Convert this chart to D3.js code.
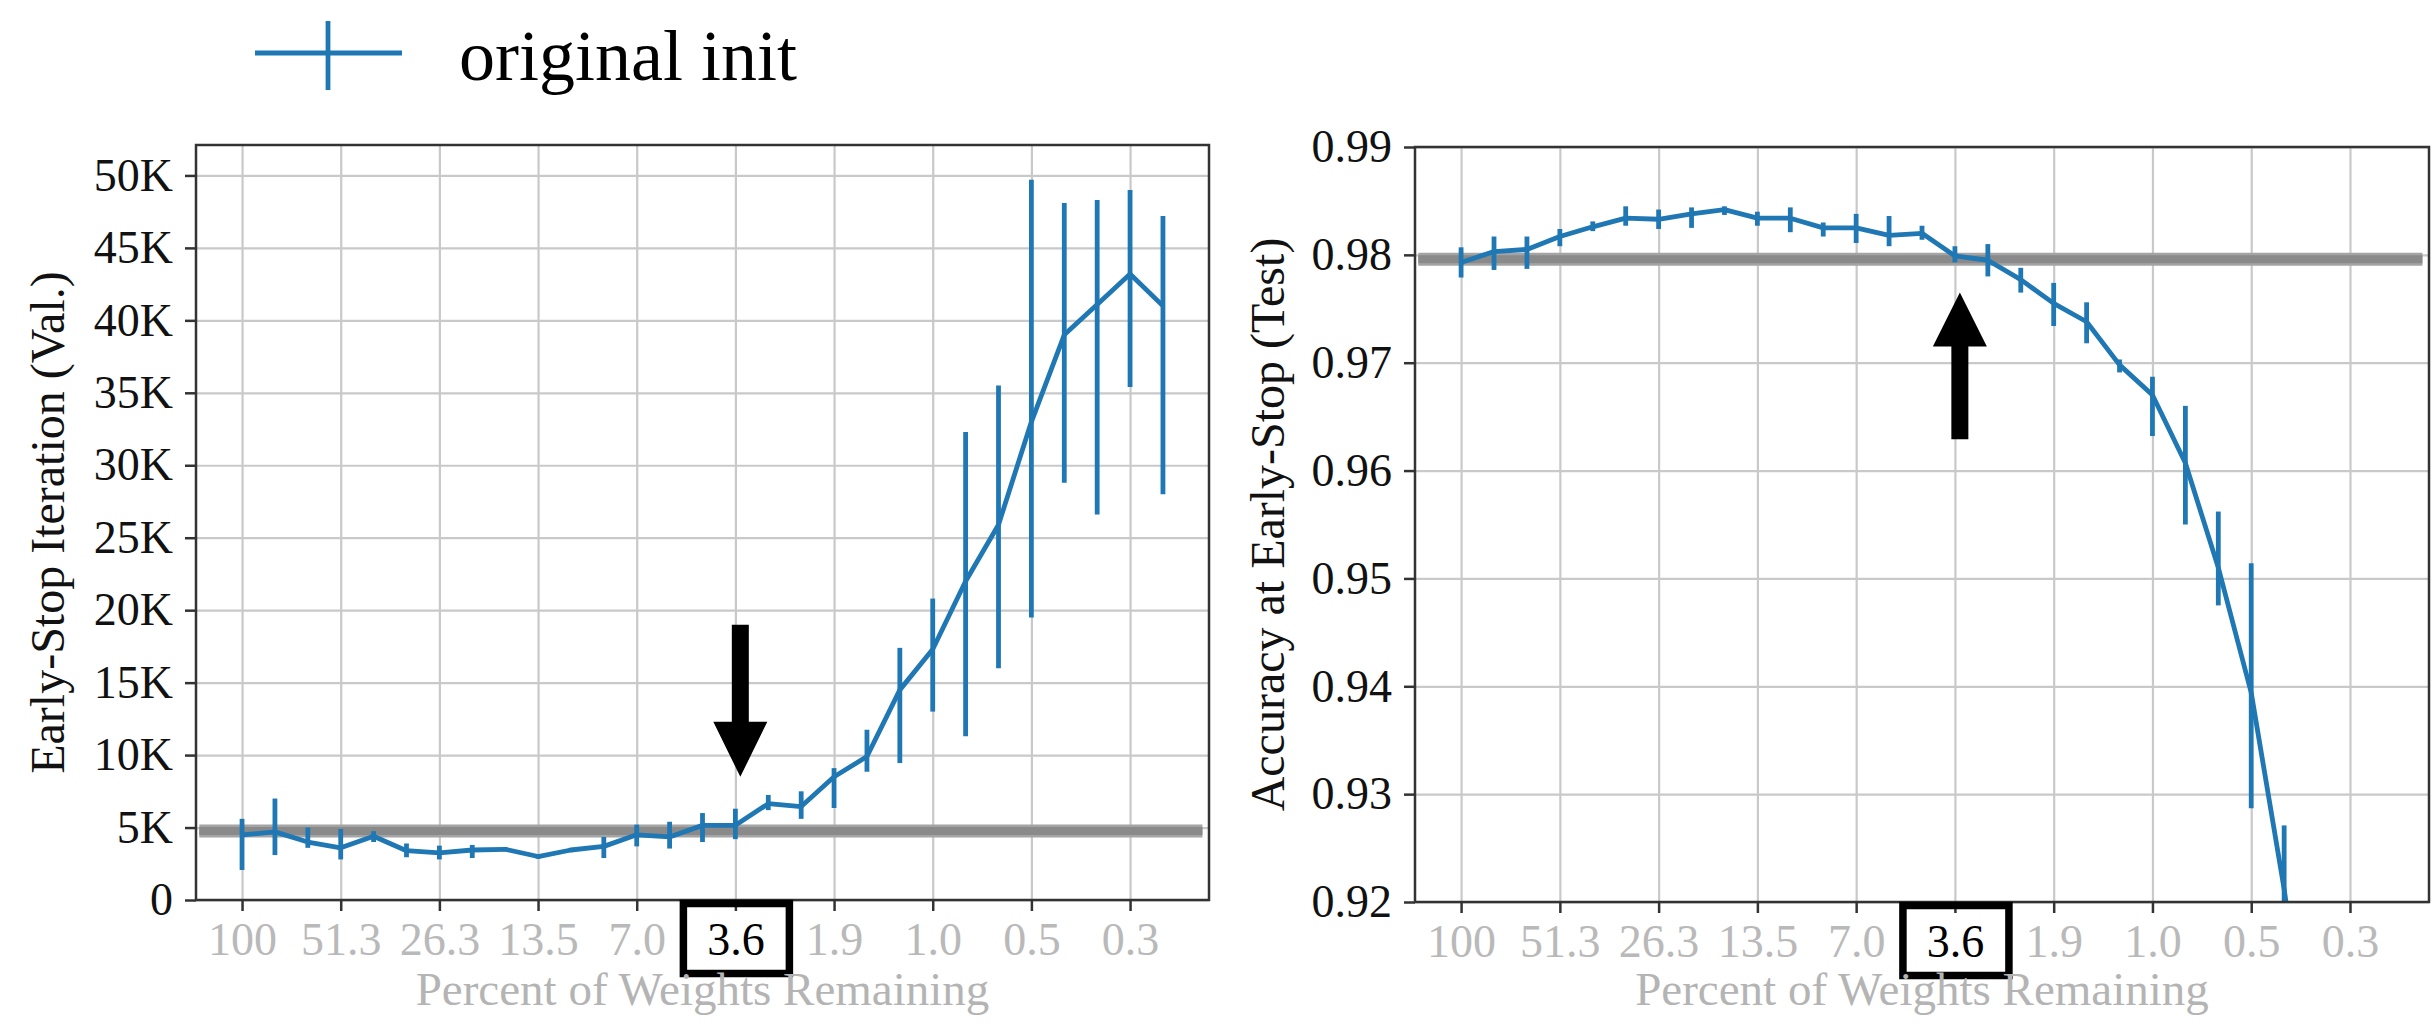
<!DOCTYPE html>
<html><head><meta charset="utf-8">
<script src="https://cdn.jsdelivr.net/npm/d3@7"></script>
<style>body{margin:0;background:#fff} svg{display:block}</style>
</head><body><svg id="c" width="2433" height="1024"></svg>
<script>
// ---------- data ----------
const pctLabels = ["100","51.3","26.3","13.5","7.0","3.6","1.9","1.0","0.5","0.3"];
const highlightLabel = "3.6";
const legendLabel = "original init";

// Early-stop iteration (thousands), pruning rounds 0..28
const iterMean = [4.49,4.7,4.0,3.6,4.4,3.4,3.25,3.45,3.5,3.0,3.45,3.7,4.5,4.35,5.15,5.15,6.65,6.45,8.5,9.9,14.5,17.3,22.0,25.9,33.0,39.0,41.1,43.2,41.0];
const iterLo   = [2.07,3.1,3.6,2.8,4.0,2.95,2.8,2.9,3.35,2.85,3.3,2.9,3.7,3.55,4.0,4.2,6.2,5.6,6.35,8.85,9.45,13.0,11.3,16.0,19.5,28.8,26.6,35.4,28.0];
const iterHi   = [5.6,7.0,5.0,4.9,4.75,3.9,3.75,3.8,3.65,3.1,3.6,4.35,5.2,5.4,6.0,6.3,7.25,7.5,9.1,11.75,17.4,20.8,32.3,35.5,49.7,48.1,48.3,49.0,47.2];
const iterTicks = [0,5,10,15,20,25,30,35,40,45,50];
const iterBaseline = 4.76;

// Accuracy at early stop (test), pruning rounds 0..26 (last ones fall below the axis)
const accMean = [0.9793,0.9803,0.9805,0.9817,0.9826,0.9834,0.9833,0.9838,0.9842,0.9834,0.9834,0.9825,0.9825,0.9818,0.9820,0.9799,0.9795,0.9777,0.9755,0.9738,0.9698,0.9670,0.9607,0.9510,0.9394,0.9212,0.9000];
const accLo   = [0.9779,0.9786,0.9787,0.9808,0.9822,0.9827,0.9824,0.9825,0.9837,0.9827,0.9821,0.9817,0.9811,0.9808,0.9814,0.9793,0.9780,0.9765,0.9734,0.9718,0.9691,0.9632,0.9550,0.9475,0.9287,0.9153,0.8900];
const accHi   = [0.9807,0.9817,0.9817,0.9824,0.9831,0.9845,0.9842,0.9844,0.9845,0.9840,0.9844,0.9830,0.9838,0.9836,0.9827,0.9808,0.9810,0.9788,0.9774,0.9756,0.9703,0.9687,0.9660,0.9562,0.9514,0.9271,0.9100];
const accTicks = [0.92,0.93,0.94,0.95,0.96,0.97,0.98,0.99];
const accBaseline = 0.9796;

// arrows: [round, tip value, head-base value, tail value]
const iterArrow = [15.15, 8.5, 12.3, 19.0];
const accArrow  = [15.15, 0.9765, 0.9715, 0.9629];

// ---------- drawing ----------
const svg = d3.select("#c");
const FONT = "'Liberation Serif','Times New Roman',serif";
const BLUE = "#1f77b4";
const tickIdx = pctLabels.map((_, i) => i * 3);

function panel(o) {
  const x = d3.scaleLinear().domain([-1.4, 29.4]).range([o.L, o.R]);
  const y = d3.scaleLinear().domain(o.yDomain).range([o.B, o.T]);
  const g = svg.append("g");
  const H = o.B - o.T, W = o.R - o.L;

  // grid
  g.append("g").attr("transform", `translate(0,${o.B})`)
    .call(d3.axisBottom(x).tickValues(tickIdx).tickSize(-H).tickFormat(""))
    .call(s => s.select(".domain").remove())
    .selectAll("line").attr("stroke", "#c9c9c9").attr("stroke-width", 2.2);
  g.append("g").attr("transform", `translate(${o.L},0)`)
    .call(d3.axisLeft(y).tickValues(o.yTicks).tickSize(-W).tickFormat(""))
    .call(s => s.select(".domain").remove())
    .selectAll("line").attr("stroke", "#c9c9c9").attr("stroke-width", 2.2);

  const clipId = "clip" + o.id;
  svg.append("clipPath").attr("id", clipId).append("rect")
    .attr("x", o.L).attr("y", o.T).attr("width", W).attr("height", H);
  const pg = g.append("g").attr("clip-path", `url(#${clipId})`);

  // baseline band
  pg.append("line")
    .attr("x1", x(-1.3)).attr("x2", x(29.2))
    .attr("y1", y(o.baseline)).attr("y2", y(o.baseline))
    .attr("stroke", "#a4a4a4").attr("stroke-width", 13);
  pg.append("line")
    .attr("x1", x(-1.3)).attr("x2", x(29.2))
    .attr("y1", y(o.baseline)).attr("y2", y(o.baseline))
    .attr("stroke", "#8a8a8a").attr("stroke-width", 8);

  // series
  const idx = d3.range(o.mean.length);
  pg.append("path").datum(idx)
    .attr("fill", "none").attr("stroke", BLUE).attr("stroke-width", 4.8)
    .attr("stroke-linejoin", "round")
    .attr("d", d3.line().x(i => x(i)).y(i => y(o.mean[i])));
  pg.selectAll("line.err").data(idx).join("line").attr("class", "err")
    .attr("x1", i => x(i)).attr("x2", i => x(i))
    .attr("y1", i => y(o.lo[i])).attr("y2", i => y(o.hi[i]))
    .attr("stroke", BLUE).attr("stroke-width", 4.8);

  // frame
  g.append("rect").attr("x", o.L).attr("y", o.T).attr("width", W).attr("height", H)
    .attr("fill", "none").attr("stroke", "#333").attr("stroke-width", 2.5);

  // axes
  const ax = g.append("g").attr("transform", `translate(0,${o.B})`)
    .call(d3.axisBottom(x).tickValues(tickIdx).tickSize(11).tickPadding(11)
      .tickFormat(d => pctLabels[d / 3]));
  ax.select(".domain").remove();
  ax.selectAll("line").attr("stroke", "#333").attr("stroke-width", 2.5);
  ax.selectAll("text").attr("font-family", FONT).attr("font-size", 46)
    .attr("fill", d => pctLabels[d / 3] === highlightLabel ? "#000" : "#b9b9b9");

  const ay = g.append("g").attr("transform", `translate(${o.L},0)`)
    .call(d3.axisLeft(y).tickValues(o.yTicks).tickSize(11).tickPadding(12).tickFormat(o.fmt));
  ay.select(".domain").remove();
  ay.selectAll("line").attr("stroke", "#333").attr("stroke-width", 2.5);
  ay.selectAll("text").attr("font-family", FONT).attr("font-size", 46).attr("fill", "#111");

  // highlight box around 3.6 label
  const hk = pctLabels.indexOf(highlightLabel) * 3;
  g.append("rect").attr("x", x(hk) - 52).attr("y", o.B + 3.5)
    .attr("width", 106).attr("height", 70)
    .attr("fill", "none").attr("stroke", "#000").attr("stroke-width", 7.5);

  // arrow
  const a = o.arrow, ax0 = x(a[0]);
  const yt = y(a[1]), yb = y(a[2]), yl = y(a[3]);
  const sw = 8.5, hw = 27;
  g.append("path").attr("fill", "#000")
    .attr("d", `M${ax0},${yt} L${ax0 + hw},${yb} L${ax0 + sw},${yb} L${ax0 + sw},${yl} L${ax0 - sw},${yl} L${ax0 - sw},${yb} L${ax0 - hw},${yb} Z`);

  // titles
  g.append("text").attr("x", (o.L + o.R) / 2).attr("y", 1005)
    .attr("text-anchor", "middle").attr("font-family", FONT).attr("font-size", 47)
    .attr("fill", "#b4b4b4").text("Percent of Weights Remaining");
  g.append("text").attr("transform", `translate(${o.ytx},${(o.T + o.B) / 2}) rotate(-90)`)
    .attr("text-anchor", "middle").attr("font-family", FONT).attr("font-size", 48)
    .attr("fill", "#111").text(o.ytitle);
}

panel({id: "L", L: 196, R: 1209, T: 145, B: 900, yDomain: [0, 52.1], yTicks: iterTicks,
  fmt: d => d === 0 ? "0" : d + "K", mean: iterMean, lo: iterLo, hi: iterHi,
  baseline: iterBaseline, arrow: iterArrow, ytx: 64, ytitle: "Early-Stop Iteration (Val.)"});
panel({id: "R", L: 1415, R: 2429, T: 147, B: 902, yDomain: [0.92, 0.99], yTicks: accTicks,
  fmt: d3.format(".2f"), mean: accMean, lo: accLo, hi: accHi,
  baseline: accBaseline, arrow: accArrow, ytx: 1284, ytitle: "Accuracy at Early-Stop (Test)"});

// legend
const lg = svg.append("g");
lg.append("line").attr("x1", 255).attr("x2", 402).attr("y1", 53).attr("y2", 53)
  .attr("stroke", BLUE).attr("stroke-width", 4.8);
lg.append("line").attr("x1", 328).attr("x2", 328).attr("y1", 21).attr("y2", 90)
  .attr("stroke", BLUE).attr("stroke-width", 4.8);
lg.append("text").attr("x", 459).attr("y", 80).attr("font-family", FONT)
  .attr("font-size", 72).attr("fill", "#000").text(legendLabel);
</script></body></html>
